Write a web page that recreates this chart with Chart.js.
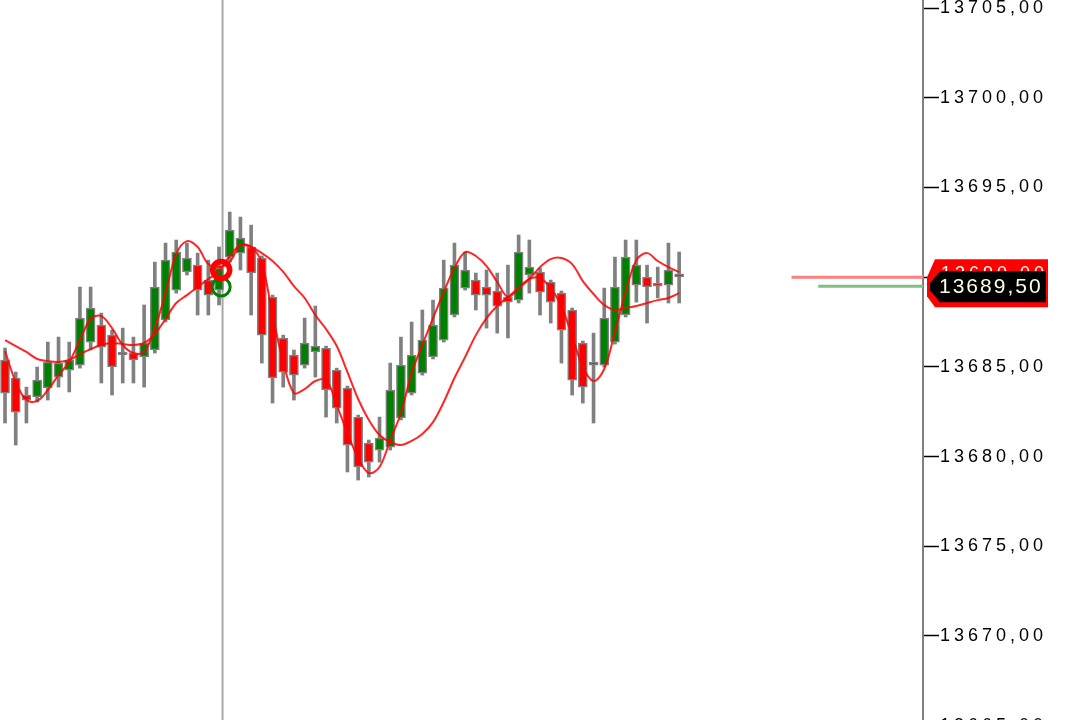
<!DOCTYPE html>
<html>
<head>
<meta charset="utf-8">
<script src="https://cdn.jsdelivr.net/npm/chart.js@4.4.1/dist/chart.umd.min.js"></script>
<style>
  html, body { margin: 0; padding: 0; overflow: hidden; background: #fff; }
</style>
</head>
<body>
<canvas id="chart" width="1065" height="740"></canvas>
<script>
// candle values, one per bar
const openPrices = [13685.38, 13684.38, 13683.43, 13683.32, 13683.82, 13684.43, 13684.82, 13685.10, 13686.38, 13687.33,
  13686.77, 13685.83, 13685.77, 13685.55, 13685.94, 13687.61, 13689.28, 13690.29, 13690.67, 13689.84,
  13689.28, 13691.12, 13691.34, 13691.68, 13691.07, 13688.89, 13686.61, 13685.66, 13685.10, 13685.83,
  13686.05, 13684.82, 13683.82, 13682.20, 13680.75, 13680.36, 13680.53, 13682.15, 13683.54, 13684.65,
  13685.55, 13686.49, 13687.89, 13689.39, 13689.84, 13689.45, 13689.23, 13688.89, 13688.72, 13690.12,
  13690.29, 13689.73, 13689.11, 13688.17, 13686.33, 13685.10, 13685.10, 13686.38, 13687.89, 13689.56,
  13690.01, 13689.67, 13689.56, 13690.01];
const highPrices = [13686.05, 13684.71, 13683.87, 13684.99, 13686.38, 13686.66, 13686.38, 13689.45, 13689.45, 13688.00,
  13687.05, 13687.16, 13686.66, 13688.45, 13690.84, 13691.90, 13692.07, 13691.90, 13691.34, 13690.95,
  13691.68, 13693.63, 13693.35, 13692.90, 13691.18, 13689.00, 13686.77, 13685.94, 13687.72, 13688.39,
  13686.16, 13684.93, 13683.93, 13682.31, 13680.92, 13682.20, 13685.21, 13686.66, 13687.50, 13688.17,
  13688.72, 13690.95, 13691.90, 13691.40, 13690.23, 13690.40, 13690.23, 13690.67, 13692.35, 13692.07,
  13690.51, 13689.84, 13689.23, 13688.28, 13686.44, 13686.88, 13689.39, 13691.12, 13692.07, 13692.07,
  13690.67, 13690.56, 13691.90, 13691.40];
const lowPrices = [13681.87, 13680.64, 13681.87, 13683.04, 13683.15, 13683.87, 13683.60, 13684.93, 13685.94, 13684.10,
  13683.43, 13684.10, 13684.10, 13683.87, 13685.77, 13687.50, 13689.11, 13690.12, 13687.89, 13687.89,
  13688.45, 13690.84, 13690.40, 13687.89, 13685.21, 13682.98, 13683.87, 13683.15, 13684.93, 13684.43,
  13682.20, 13681.87, 13679.14, 13678.69, 13678.86, 13679.69, 13680.36, 13682.04, 13683.43, 13684.54,
  13685.44, 13686.38, 13687.78, 13689.28, 13688.17, 13687.16, 13686.88, 13686.61, 13688.56, 13689.11,
  13687.89, 13687.44, 13685.21, 13683.43, 13682.98, 13681.87, 13684.99, 13686.27, 13687.78, 13688.61,
  13687.44, 13688.84, 13688.56, 13688.56];
const closePrices = [13683.54, 13682.48, 13683.15, 13684.26, 13685.27, 13685.21, 13685.38, 13687.72, 13688.28, 13686.10,
  13684.99, 13685.66, 13685.38, 13686.33, 13689.45, 13690.95, 13691.40, 13691.07, 13689.28, 13689.00,
  13690.51, 13692.62, 13692.18, 13690.23, 13686.77, 13684.38, 13684.71, 13684.54, 13686.33, 13686.16,
  13683.71, 13682.70, 13680.64, 13679.42, 13679.69, 13681.03, 13683.71, 13685.10, 13685.66, 13686.49,
  13687.33, 13689.39, 13690.67, 13690.40, 13689.00, 13689.00, 13688.39, 13688.61, 13691.40, 13690.56,
  13689.17, 13688.61, 13687.05, 13684.26, 13683.87, 13685.12, 13687.72, 13689.45, 13691.12, 13690.67,
  13689.45, 13689.50, 13690.40, 13690.18];

// the two red average lines, read at each bar
const fastAvg = [13685.88, 13684.15, 13683.15, 13683.10, 13683.71, 13684.54, 13685.27, 13686.49, 13687.67, 13687.83,
  13687.16, 13686.22, 13685.77, 13685.83, 13687.16, 13689.11, 13691.29, 13692.01, 13691.68, 13690.73,
  13690.56, 13690.84, 13691.79, 13691.68, 13690.79, 13687.89, 13685.27, 13683.54, 13683.76, 13684.21,
  13684.27, 13682.87, 13681.31, 13679.92, 13679.08, 13679.42, 13680.92, 13682.43, 13684.66, 13686.22,
  13687.72, 13689.17, 13690.51, 13691.40, 13691.18, 13690.62, 13689.73, 13688.89, 13689.39, 13689.90,
  13689.95, 13689.39, 13688.39, 13686.72, 13684.99, 13684.21, 13684.88, 13686.94, 13689.17, 13690.95,
  13691.34, 13690.90, 13690.56, 13690.28];
const slowAvg = [13686.49, 13686.16, 13685.83, 13685.44, 13685.32, 13685.27, 13685.38, 13685.71, 13685.99, 13686.22,
  13686.33, 13686.27, 13686.22, 13686.33, 13686.83, 13687.67, 13688.56, 13689.00, 13689.45, 13689.90,
  13690.34, 13691.18, 13691.79, 13691.68, 13691.34, 13690.90, 13690.29, 13689.50, 13688.84, 13687.89,
  13687.11, 13686.16, 13684.71, 13683.21, 13682.04, 13681.20, 13680.81, 13680.64, 13680.87, 13681.26,
  13681.92, 13683.04, 13684.38, 13685.55, 13686.77, 13687.72, 13688.39, 13688.89, 13689.39, 13689.90,
  13690.56, 13691.01, 13691.07, 13690.73, 13689.78, 13689.06, 13688.45, 13688.17, 13688.28, 13688.39,
  13688.56, 13688.72, 13688.84, 13689.11];

// signal rings, crosshair and last-price marks
const signalBar = 20.2;
const sellSignal = 13690.40;
const buySignal = 13689.45;
const crosshairBar = 20.33;
const bidPrice = 13690.00;
const lastPrice = 13689.50;
const bidLineFrom = 73.5;
const lastLineFrom = 76.0;

// axis range and ticks
const xMin = -0.47, xMax = 85.79;
const yMin = 13664.2, yMax = 13705.45;
const yStep = 5;

const fmt = v => v.toFixed(2).replace('.', ',');

const wickData = lowPrices.map((l, i) => ({x: i, y: [l, highPrices[i]]}));
const bodyData = openPrices.map((o, i) => ({x: i, y: [o, closePrices[i]]}));
const bodyColors = openPrices.map((o, i) => closePrices[i] >= o ? '#008000' : '#ff0000');

const priceTags = {
  id: 'priceTags',
  beforeDraw(chart) {
    chart.ctx.letterSpacing = '4px';
  },
  afterDraw(chart) {
    const ctx = chart.ctx;
    const ys = chart.scales.y;
    const yr = ys.getPixelForValue(bidPrice);
    const yg = ys.getPixelForValue(lastPrice);
    ctx.save();
    // red tag
    ctx.fillStyle = '#ff0000';
    ctx.beginPath();
    ctx.moveTo(927, yr);
    ctx.lineTo(935, yr - 18);
    ctx.lineTo(1048, yr - 18);
    ctx.lineTo(1048, yg + 21);
    ctx.lineTo(935, yg + 21);
    ctx.lineTo(927, yg + 10);
    ctx.closePath();
    ctx.fill();
    ctx.fillStyle = '#ffffff';
    ctx.font = '18px "Liberation Sans"';
    ctx.letterSpacing = '4px';
    ctx.textBaseline = 'middle';
    ctx.textAlign = 'left';
    ctx.fillText(fmt(bidPrice), 941, yr - 3);
    // black tag
    ctx.fillStyle = '#000000';
    ctx.beginPath();
    ctx.moveTo(930, yg - 3);
    ctx.lineTo(940, yg - 15);
    ctx.lineTo(1046, yg - 15);
    ctx.lineTo(1046, yg + 16);
    ctx.lineTo(940, yg + 16);
    ctx.lineTo(930, yg + 4);
    ctx.closePath();
    ctx.fill();
    ctx.fillStyle = '#ffffe4';
    ctx.font = '21px "Liberation Sans"';
    ctx.letterSpacing = '2px';
    ctx.fillText(fmt(lastPrice), 939, yg + 1);
    ctx.restore();
  }
};

new Chart(document.getElementById('chart'), {
  type: 'bar',
  data: {
    datasets: [
      {
        type: 'line',
        data: [{x: crosshairBar, y: yMin}, {x: crosshairBar, y: yMax}],
        borderColor: '#a8a8a8', borderWidth: 2, pointRadius: 0, order: 10
      },
      {
        data: wickData, backgroundColor: '#808080', borderWidth: 0,
        barThickness: 3, grouped: false, order: 6
      },
      {
        data: bodyData, backgroundColor: bodyColors, borderColor: '#808080',
        borderWidth: 1.5, borderSkipped: false, barThickness: 9, minBarLength: 3,
        grouped: false, order: 5
      },
      {
        type: 'line',
        data: slowAvg.map((v, i) => ({x: i, y: v})),
        borderColor: 'rgba(255,0,0,0.85)', borderWidth: 2, pointRadius: 0, tension: 0.35, order: 4
      },
      {
        type: 'line',
        data: fastAvg.map((v, i) => ({x: i, y: v})),
        borderColor: 'rgba(255,0,0,0.85)', borderWidth: 2, pointRadius: 0, tension: 0.35, order: 3
      },
      {
        type: 'line',
        data: [{x: bidLineFrom, y: bidPrice}, {x: xMax, y: bidPrice}],
        borderColor: '#ff8080', borderWidth: 3, pointRadius: 0, order: 3
      },
      {
        type: 'line',
        data: [{x: lastLineFrom, y: lastPrice}, {x: xMax, y: lastPrice}],
        borderColor: '#80c080', borderWidth: 3, pointRadius: 0, order: 3
      },
      {
        type: 'line', showLine: false,
        data: [{x: signalBar, y: buySignal}],
        pointRadius: 9, pointBorderWidth: 3, pointBorderColor: '#008000',
        pointBackgroundColor: 'rgba(0,0,0,0)', order: 2
      },
      {
        type: 'line', showLine: false,
        data: [{x: signalBar, y: sellSignal}],
        pointRadius: 8.5, pointBorderWidth: 5.5, pointBorderColor: '#ff0000',
        pointBackgroundColor: 'rgba(0,0,0,0)', order: 1
      }
    ]
  },
  options: {
    responsive: false,
    animation: false,
    devicePixelRatio: 1,
    layout: {padding: 0, autoPadding: false},
    plugins: {legend: {display: false}, tooltip: {enabled: false}},
    scales: {
      x: {type: 'linear', min: xMin, max: xMax, display: false, offset: false},
      y: {
        position: 'right',
        min: yMin,
        max: yMax,
        afterFit(scale) {
          scale.width = 142;
          scale.paddingTop = 0;
          scale.paddingBottom = 0;
        },
        border: {display: true, color: '#808080', width: 2},
        grid: {drawOnChartArea: false, drawTicks: true, tickLength: 16, tickColor: '#000000', tickWidth: 1.5},
        ticks: {
          stepSize: yStep,
          includeBounds: false,
          padding: 1,
          color: '#000000',
          font: {family: 'Liberation Sans', size: 18},
          callback: v => fmt(v)
        }
      }
    }
  },
  plugins: [priceTags]
});
</script>
</body>
</html>
